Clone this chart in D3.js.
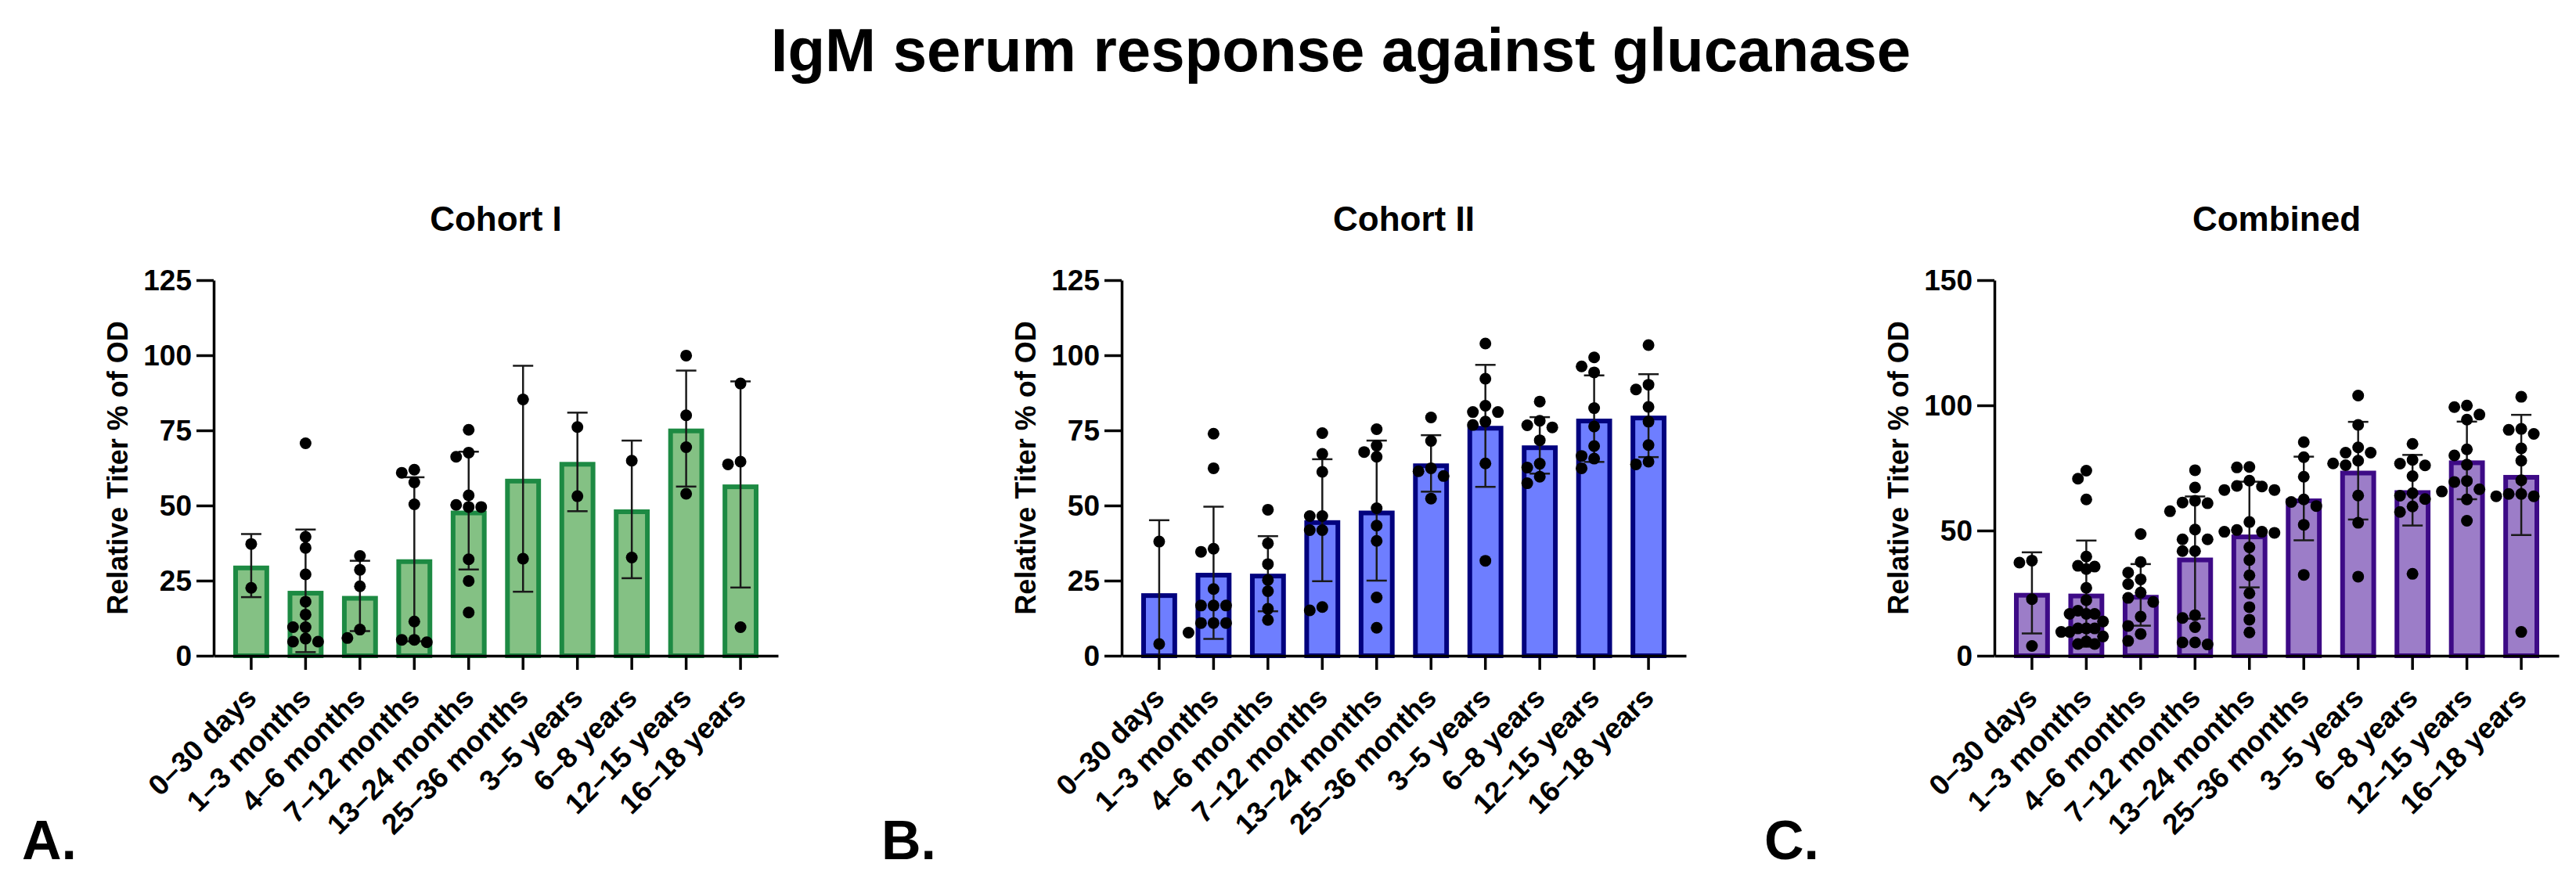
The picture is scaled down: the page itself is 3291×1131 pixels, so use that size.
<!DOCTYPE html>
<html>
<head>
<meta charset="utf-8">
<script src="https://cdn.jsdelivr.net/npm/d3@7"></script>
<style>
  body { margin: 0; background: #fff; }
  text { font-family: "Liberation Sans", Arial, Helvetica, sans-serif; font-weight: bold; fill: #000; }
</style>
</head>
<body>
<script>
// categories
const ageGroups = ["0–30 days", "1–3 months", "4–6 months", "7–12 months", "13–24 months",
                   "25–36 months", "3–5 years", "6–8 years", "12–15 years", "16–18 years"];

// Cohort I: bar means, SD and individual points
const cohort1Means = [30.0, 21.6, 19.9, 32.1, 48.3, 58.9, 64.5, 48.7, 75.6, 57.0];
const cohort1Sd    = [10.5, 20.4, 11.7, 27.3, 19.6, 37.6, 16.4, 22.9, 19.3, 34.3];
const cohort1Points = [
  [37.2, 22.6],
  [70.7, 39.6, 35.9, 27.1, 18.0, 13.7, 9.5, 9.5, 5.7, 4.7, 4.7],
  [33.2, 28.6, 23.1, 8.7, 5.9],
  [61.9, 60.9, 57.7, 50.4, 11.4, 5.3, 5.3, 4.5],
  [75.2, 67.6, 66.2, 53.4, 50.2, 49.5, 49.5, 32.1, 24.9, 14.4],
  [85.3, 32.3],
  [76.1, 53.1],
  [64.9, 32.7],
  [99.9, 80.0, 69.4, 53.9],
  [90.6, 64.6, 63.7, 9.5]
];

// Cohort II
const cohort2Means = [20.8, 27.6, 27.3, 45.1, 48.3, 64.0, 76.5, 70.0, 78.9, 79.9];
const cohort2Sd    = [24.3, 22.0, 12.5, 20.3, 23.3, 9.4, 20.3, 9.4, 14.4, 13.8];
const cohort2Points = [
  [38.0, 3.9],
  [73.9, 62.4, 35.6, 34.6, 22.2, 16.7, 16.7, 16.7, 10.9, 10.9, 10.9, 7.7],
  [48.6, 37.4, 30.5, 25.2, 21.5, 15.6, 11.9],
  [74.1, 67.2, 61.2, 46.5, 46.5, 41.8, 41.8, 16.2, 15.1],
  [75.4, 69.9, 67.8, 66.2, 49.1, 43.3, 38.2, 19.4, 9.3],
  [79.3, 71.5, 62.4, 61.4, 59.8, 52.3],
  [103.9, 92.2, 83.2, 81.1, 81.1, 77.9, 76.8, 64.0, 31.6],
  [84.6, 78.2, 76.7, 76.0, 71.7, 63.9, 62.6, 59.6, 57.4],
  [99.3, 96.3, 94.3, 82.4, 76.3, 69.8, 66.5, 65.6, 62.4],
  [103.4, 90.2, 88.6, 82.8, 77.9, 70.1, 64.6, 63.7]
];

// Combined: the points of both cohorts together
const combinedMeans = [25.1, 24.8, 24.3, 39.2, 48.4, 62.8, 73.9, 66.1, 78.0, 72.2];
const combinedSd    = [16.2, 21.2, 12.3, 24.4, 21.1, 16.7, 19.5, 14.1, 15.5, 24.0];
const combinedPoints = cohort1Points.map((p, i) => p.concat(cohort2Points[i]));

// tick labels
const cohortTicks = [0, 25, 50, 75, 100, 125];
const combinedTicks = [0, 50, 100, 150];

const W = 3291, H = 1131;
const TOP = 358, BOTTOM = 838, PLOT_W = 721;
const DOT_R = 7.5, STROKE = 6, CAP = 26;

const svg = d3.select("body").append("svg")
    .attr("width", W).attr("height", H)
    .attr("viewBox", `0 0 ${W} ${H}`);

svg.append("text")
    .attr("x", 1713).attr("y", 91)
    .attr("text-anchor", "middle")
    .style("font-size", "78px")
    .text("IgM serum response against glucanase");

const panels = [
  { title: "Cohort I", letter: "A.", letterX: 28, x0: 273, means: cohort1Means, sd: cohort1Sd,
    points: cohort1Points, ticks: cohortTicks, fill: "#84c184", stroke: "#1d8a43" },
  { title: "Cohort II", letter: "B.", letterX: 1126, x0: 1433, means: cohort2Means, sd: cohort2Sd,
    points: cohort2Points, ticks: cohortTicks, fill: "#6e7eff", stroke: "#02027e" },
  { title: "Combined", letter: "C.", letterX: 2254, x0: 2548, means: combinedMeans, sd: combinedSd,
    points: combinedPoints, ticks: combinedTicks, fill: "#9c7dc8", stroke: "#3d0a86" }
];

// horizontal offsets for the dots of one bar, so close values sit side by side
function spread(values, y) {
  const order = values.map((v, i) => i).sort((a, b) => values[b] - values[a]);
  const laneOrder = [0, -1, 1, -2, 2, -3, 3];
  const lanes = [];
  const placed = [];
  order.forEach(i => {
    const py = y(values[i]);
    const lane = laneOrder.find(l => !placed.some(p => p.lane === l && Math.abs(p.py - py) < 14));
    lanes[i] = lane;
    placed.push({ lane, py });
  });
  const maxLane = d3.max(lanes, l => Math.abs(l));
  const step = maxLane > 1 ? 32 / maxLane : 16;
  return lanes.map(l => l * step);
}

panels.forEach(p => {
  const x = d3.scaleBand()
      .domain(ageGroups)
      .range([p.x0, p.x0 + PLOT_W])
      .paddingInner(0.34)
      .paddingOuter(0.36);
  const y = d3.scaleLinear()
      .domain([0, d3.max(p.ticks)])
      .range([BOTTOM, TOP]);

  const g = svg.append("g");

  // title
  g.append("text")
      .attr("x", p.x0 + PLOT_W / 2).attr("y", 295)
      .attr("text-anchor", "middle")
      .style("font-size", "44px")
      .text(p.title);

  // bars
  g.selectAll("rect.bar")
    .data(p.means)
    .enter().append("rect")
      .attr("class", "bar")
      .attr("x", (d, i) => x(ageGroups[i]) + STROKE / 2)
      .attr("width", x.bandwidth() - STROKE)
      .attr("y", d => y(d) + STROKE / 2)
      .attr("height", d => y(0) - y(d) - STROKE / 2)
      .attr("fill", p.fill)
      .attr("stroke", p.stroke)
      .attr("stroke-width", STROKE);

  // error bars (mean ± SD, cut at zero)
  const err = g.selectAll("g.err")
    .data(p.means.map((m, i) => ({ m, s: p.sd[i], c: x(ageGroups[i]) + x.bandwidth() / 2 })))
    .enter().append("g")
      .attr("class", "err")
      .attr("stroke", "#1a1a1a")
      .attr("stroke-width", 2.5);
  err.append("line")
      .attr("x1", d => d.c).attr("x2", d => d.c)
      .attr("y1", d => y(Math.max(0, d.m - d.s)))
      .attr("y2", d => y(d.m + d.s));
  err.append("line")
      .attr("x1", d => d.c - CAP / 2).attr("x2", d => d.c + CAP / 2)
      .attr("y1", d => y(d.m + d.s)).attr("y2", d => y(d.m + d.s));
  err.filter(d => d.m - d.s > 0).append("line")
      .attr("x1", d => d.c - CAP / 2).attr("x2", d => d.c + CAP / 2)
      .attr("y1", d => y(d.m - d.s)).attr("y2", d => y(d.m - d.s));

  // individual points
  p.points.forEach((vals, i) => {
    const c = x(ageGroups[i]) + x.bandwidth() / 2;
    const off = spread(vals, y);
    g.selectAll(null)
      .data(vals)
      .enter().append("circle")
        .attr("cx", (d, j) => c + off[j])
        .attr("cy", d => y(d))
        .attr("r", DOT_R)
        .attr("fill", "#000");
  });

  // y axis
  const yAxis = g.append("g")
      .attr("transform", `translate(${p.x0},0)`)
      .call(d3.axisLeft(y).tickValues(p.ticks).tickSize(22).tickSizeOuter(0).tickPadding(6));
  yAxis.selectAll("text").style("font-size", "37px").attr("dy", "0.35em");

  // x axis
  const xAxis = g.append("g")
      .attr("transform", `translate(0,${BOTTOM})`)
      .call(d3.axisBottom(x).tickSize(18).tickSizeOuter(0));
  xAxis.selectAll("text")
      .style("font-size", "37px")
      .attr("text-anchor", "end")
      .attr("x", 0).attr("y", 0).attr("dy", 0)
      .attr("transform", "translate(9,56) rotate(-45)");

  g.selectAll(".domain, .tick line")
      .attr("stroke", "#000")
      .attr("stroke-width", 3.5);
  g.selectAll(".tick text").attr("fill", "#000");

  // y axis label
  g.append("text")
      .attr("transform", `translate(${p.x0 - 123},${(TOP + BOTTOM) / 2}) rotate(-90)`)
      .attr("text-anchor", "middle")
      .attr("dy", "0.35em")
      .style("font-size", "36px")
      .text("Relative Titer % of OD");

  // panel letter
  svg.append("text")
      .attr("x", p.letterX).attr("y", 1098)
      .style("font-size", "70px")
      .text(p.letter);
});
</script>
</body>
</html>
